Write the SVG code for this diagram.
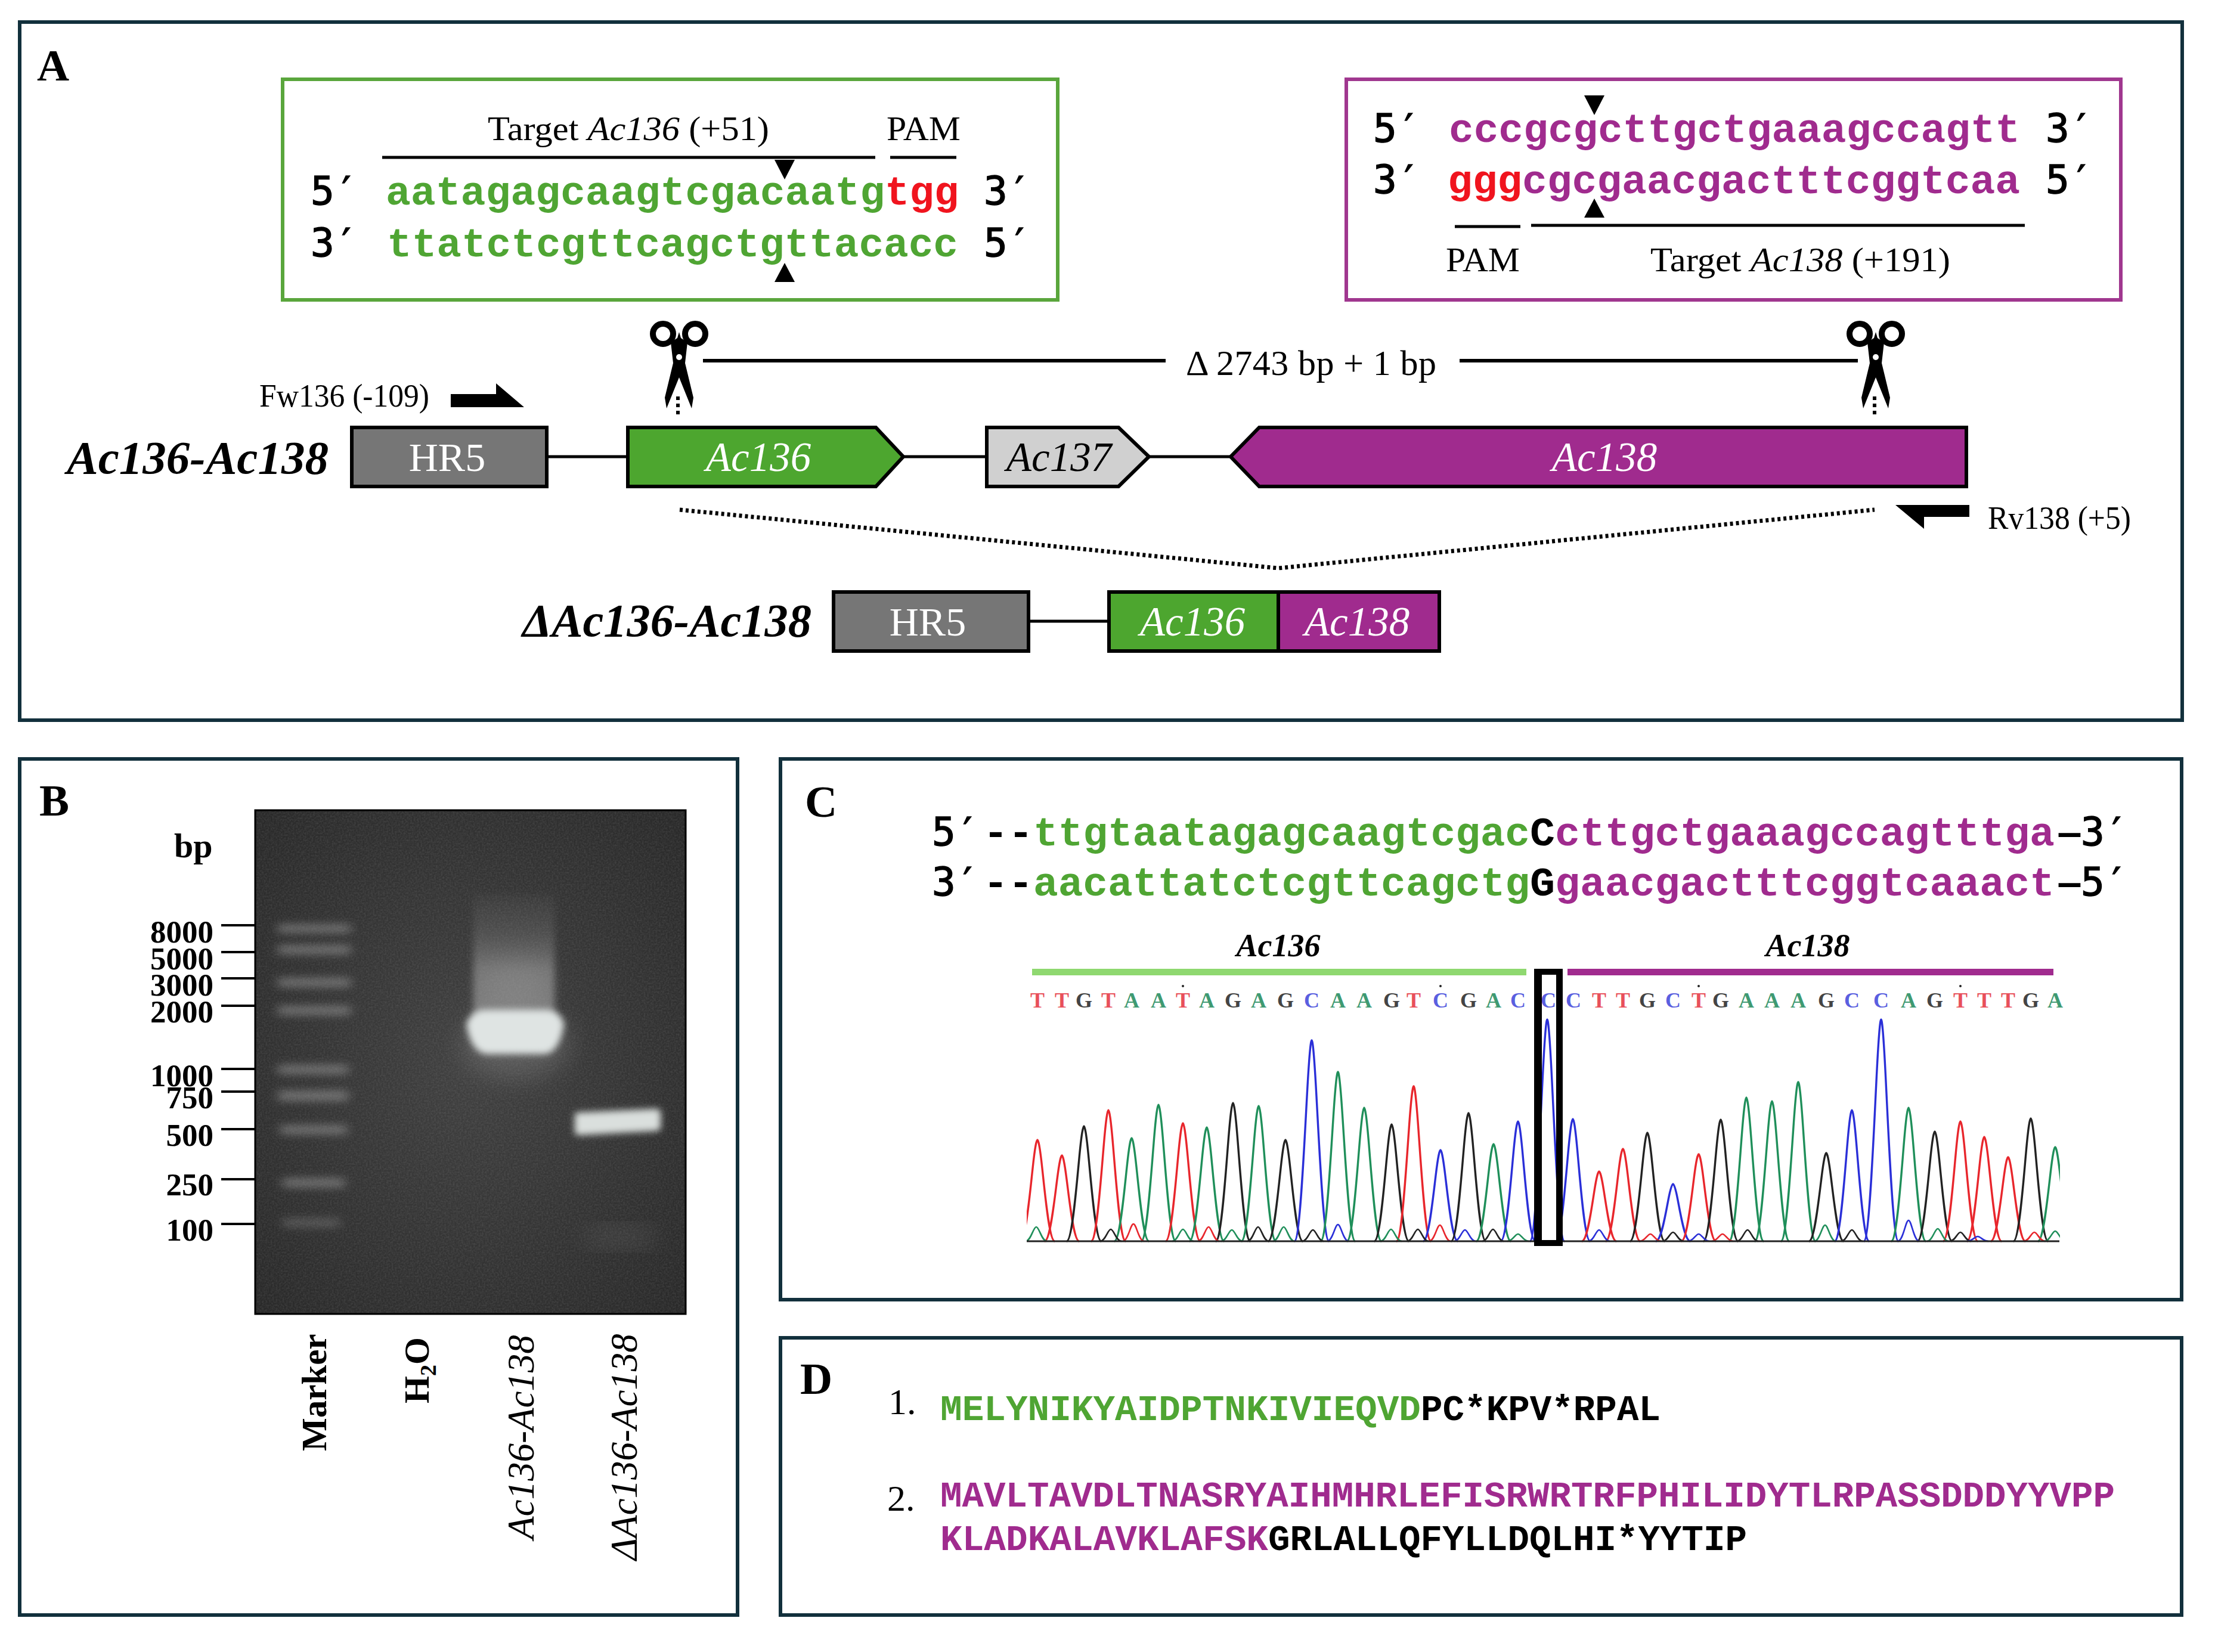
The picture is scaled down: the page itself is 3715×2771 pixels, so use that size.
<svg xmlns="http://www.w3.org/2000/svg" xmlns:xlink="http://www.w3.org/1999/xlink" width="3715" height="2771" viewBox="0 0 3715 2771">
<style>
text{font-family:"Liberation Serif","Times New Roman",serif;fill:#000}
.panel{fill:#fff;stroke:#12303c;stroke-width:6}
.m{font-family:"Liberation Mono","Courier New",monospace;font-weight:700}
.pr{font-family:"DejaVu Sans Mono","Liberation Mono",monospace;font-weight:400;font-size:66px;stroke:#000;stroke-width:1.5}
.s{font-size:69px}
.aa{font-size:61px}
.lab{font-weight:700;font-size:75px}
.t{font-size:57px}
.i{font-style:italic}
.gene{font-size:69px;font-style:italic;fill:#fff;text-anchor:middle}
.box{stroke:#000;stroke-width:6}
.line{stroke:#000;stroke-width:5;fill:none}
.tick{stroke:#000;stroke-width:4}
.size{font-weight:700;font-size:53px;text-anchor:end}
.g{fill:#4fa533}.p{fill:#a02b8e}.r{fill:#f0141e}
.cR{stroke:#e8262c}.cB{stroke:#2a2fd8}.cG{stroke:#1f8f5a}.cK{stroke:#222}
.b{font-size:36px;text-anchor:middle}
.fR{fill:#e8505a}.fB{fill:#5a5fe0}.fG{fill:#3f9a72}.fK{fill:#444}
.band{fill:#b0b0b0;filter:url(#b7)}
</style>
<defs>
<path id="pk" fill="none" stroke-width="3.4" vector-effect="non-scaling-stroke" d="M-29 0C-20 0-13-.45-8-.72C-4-.94-1.500-1 0-1C1.500-1 4-.94 8-.72C13-.45 20 0 29 0"/>
<path id="sm" fill="none" stroke-width="2.6" vector-effect="non-scaling-stroke" d="M-18 0C-9 0-5-1 0-1C5-1 9 0 18 0"/>
<g id="sc">
<circle cx="-27" cy="-39" r="17" fill="none" stroke="#000" stroke-width="10"/>
<circle cx="27" cy="-39" r="17" fill="none" stroke="#000" stroke-width="10"/>
<path d="M-14-25L-3-32L0-42L3-32L14-25L10 10L24 68L21 86L0 34L-21 86L-24 68L-10 10Z" fill="#000"/>
<circle cx="0" cy="0" r="5" fill="#fff"/>
<path d="M-2 66V99" stroke="#000" stroke-width="6" stroke-dasharray="6 6" fill="none"/>
</g>
<filter id="b7" x="-20%" y="-200%" width="140%" height="500%"><feGaussianBlur stdDeviation="9 7"/></filter>
<filter id="b6" x="-20%" y="-60%" width="140%" height="220%"><feGaussianBlur stdDeviation="6"/></filter>
<filter id="b20" x="-40%" y="-40%" width="180%" height="180%"><feGaussianBlur stdDeviation="20"/></filter>
<filter id="grain" x="0" y="0" width="100%" height="100%"><feTurbulence type="fractalNoise" baseFrequency=".35" numOctaves="2" seed="4"/><feColorMatrix values="0 0 0 0 .75 0 0 0 0 .75 0 0 0 0 .75 .6 0 0 0 -.2"/></filter>
<radialGradient id="gelbg" cx="50%" cy="50%" r="72%"><stop offset="0" stop-color="#414141"/><stop offset="1" stop-color="#282828"/></radialGradient>
<linearGradient id="smear" x1="0" y1="0" x2="0" y2="1"><stop offset="0" stop-color="#999" stop-opacity=".05"/><stop offset=".3" stop-color="#999" stop-opacity=".22"/><stop offset=".6" stop-color="#aaa" stop-opacity=".5"/><stop offset="1" stop-color="#aaa" stop-opacity=".6"/></linearGradient>
<clipPath id="trc"><rect x="1722" y="1700" width="1733" height="400"/></clipPath>
</defs>
<rect width="3715" height="2771" fill="#fff"/>

<g id="panel-A">
<rect class="panel" x="33" y="37" width="3627" height="1171"/>
<text class="lab" x="62" y="135">A</text>

<g id="target-ac136">
<rect x="474" y="133" width="1300" height="370" fill="#fff" stroke="#5aa63c" stroke-width="6"/>
<text class="t" x="818" y="235" textLength="472" lengthAdjust="spacingAndGlyphs">Target <tspan class="i">Ac136</tspan> (+51)</text>
<text class="t" x="1487" y="235" textLength="124" lengthAdjust="spacingAndGlyphs">PAM</text>
<path class="line" d="M641 264H1468M1493 264H1604"/>
<text class="pr" x="521" y="343">5′</text>
<text class="m s g" x="647" y="343" textLength="837" lengthAdjust="spacingAndGlyphs">aatagagcaagtcgacaatg</text>
<text class="m s r" x="1484" y="343" textLength="124" lengthAdjust="spacingAndGlyphs">tgg</text>
<text class="pr" x="1650" y="343">3′</text>
<text class="pr" x="521" y="430">3′</text>
<text class="m s g" x="649" y="430" textLength="958" lengthAdjust="spacingAndGlyphs">ttatctcgttcagctgttacacc</text>
<text class="pr" x="1650" y="430">5′</text>
<path d="M1299 268H1333L1316 301Z"/>
<path d="M1316 441L1333 473H1299Z"/>
</g>

<g id="target-ac138">
<rect x="2258" y="133" width="1299" height="370" fill="#fff" stroke="#a0378f" stroke-width="6"/>
<text class="pr" x="2303" y="238">5′</text>
<text class="m s p" x="2430" y="238" textLength="958" lengthAdjust="spacingAndGlyphs">cccgcgcttgctgaaagccagtt</text>
<text class="pr" x="3431" y="238">3′</text>
<text class="pr" x="2303" y="324">3′</text>
<text class="m s r" x="2428" y="324" textLength="125" lengthAdjust="spacingAndGlyphs">ggg</text>
<text class="m s p" x="2553" y="324" textLength="835" lengthAdjust="spacingAndGlyphs">cgcgaacgactttcggtcaa</text>
<text class="pr" x="3431" y="324">5′</text>
<path d="M2657 160H2691L2674 193Z"/>
<path d="M2674 333L2691 365H2657Z"/>
<path class="line" d="M2440 380H2550M2568 378H3396"/>
<text class="t" x="2425" y="455" textLength="124" lengthAdjust="spacingAndGlyphs">PAM</text>
<text class="t" x="2768" y="455" textLength="503" lengthAdjust="spacingAndGlyphs">Target <tspan class="i">Ac138</tspan> (+191)</text>
</g>

<g id="connectors">
<path d="M1179 605H1955M2448 605H3116" stroke="#000" stroke-width="6" fill="none"/>
<path d="M917 766H1053M1515 766H1655M1927 766H2064M1725 1042H1860" stroke="#000" stroke-width="5" fill="none"/>
<path d="M1140 855L2144 953L3144 855" stroke="#000" stroke-width="7" stroke-dasharray="5 5" fill="none"/>
</g>

<g id="scissors-left"><use xlink:href="#sc" href="#sc" x="1139" y="599"/></g>
<g id="scissors-right"><use xlink:href="#sc" href="#sc" x="3146" y="599"/></g>
<text class="t" x="1989" y="629" textLength="420" lengthAdjust="spacing" style="font-size:60px">Δ 2743 bp + 1 bp</text>

<g id="primer-fw"><text class="t" x="435" y="682" textLength="285" lengthAdjust="spacingAndGlyphs" style="font-size:54px">Fw136 (-109)</text>
<path d="M756 661H832V643L879 683H756Z"/></g>
<g id="primer-rv"><text class="t" x="3334" y="887" textLength="240" lengthAdjust="spacingAndGlyphs" style="font-size:54px">Rv138 (+5)</text>
<path d="M3179 847H3303V867H3227V887Z"/></g>

<text class="i" x="112" y="794" textLength="439" lengthAdjust="spacingAndGlyphs" style="font-size:79px;font-weight:700">Ac136-Ac138</text>
<g id="wt-hr5"><rect class="box" x="590" y="717" width="327" height="99" fill="#767676"/>
<text x="750" y="790" text-anchor="middle" style="font-size:68px;fill:#fff">HR5</text></g>
<g id="wt-ac136"><path class="box" d="M1053 717H1469L1515 766L1469 816H1053Z" fill="#4da62f"/>
<text class="gene" x="1272" y="790">Ac136</text></g>
<g id="wt-ac137"><path class="box" d="M1655 717H1876L1927 766L1876 816H1655Z" fill="#d0d0d0"/>
<text class="gene" x="1776" y="790" style="fill:#000">Ac137</text></g>
<g id="wt-ac138"><path class="box" d="M2064 766L2112 717H3298V816H2112Z" fill="#a02b8e"/>
<text class="gene" x="2691" y="790">Ac138</text></g>

<text class="i" x="876" y="1067" textLength="485" lengthAdjust="spacingAndGlyphs" style="font-size:79px;font-weight:700">ΔAc136-Ac138</text>
<g id="del-hr5"><rect class="box" x="1398" y="993" width="327" height="99" fill="#767676"/>
<text x="1556" y="1066" text-anchor="middle" style="font-size:68px;fill:#fff">HR5</text></g>
<g id="del-ac136"><rect class="box" x="1860" y="993" width="284" height="99" fill="#4da62f"/>
<text class="gene" x="2000" y="1066">Ac136</text></g>
<g id="del-ac138"><rect class="box" x="2144" y="993" width="270" height="99" fill="#a02b8e"/>
<text class="gene" x="2276" y="1066">Ac138</text></g>
</g>

<g id="panel-B">
<rect class="panel" x="33" y="1273" width="1204" height="1436"/>
<text class="lab" x="66" y="1368">B</text>
<g id="gel">
<rect x="428" y="1359" width="722" height="845" fill="url(#gelbg)" stroke="#000" stroke-width="3"/>
<rect x="430" y="1361" width="718" height="841" filter="url(#grain)" opacity=".35"/>
<g opacity=".45">
<rect class="band" x="466" y="1550" width="122" height="15"/>
<rect class="band" x="466" y="1585" width="122" height="16"/>
<rect class="band" x="466" y="1640" width="122" height="16"/>
<rect class="band" x="466" y="1687" width="122" height="16"/>
<rect class="band" x="466" y="1786" width="118" height="16"/>
<rect class="band" x="466" y="1829" width="118" height="18"/>
<rect class="band" x="470" y="1887" width="112" height="16"/>
<rect class="band" x="474" y="1976" width="104" height="16"/>
<rect class="band" x="474" y="2043" width="96" height="16" opacity=".6"/>
</g>
<rect x="794" y="1500" width="136" height="210" fill="url(#smear)" filter="url(#b6)"/>
<ellipse cx="866" cy="1650" rx="60" ry="34" fill="#aaa" opacity=".2" filter="url(#b20)"/>
<ellipse cx="866" cy="1750" rx="90" ry="60" fill="#999" opacity=".3" filter="url(#b20)"/>
<path d="M782 1718Q790 1696 812 1694H918Q940 1696 946 1718Q938 1764 915 1768H815Q790 1764 782 1718Z" fill="#dfe4e3" filter="url(#b6)"/>
<path d="M964 1870Q964 1866 972 1866L1100 1860Q1108 1860 1108 1866L1108 1892Q1108 1896 1100 1897L972 1904Q964 1904 964 1898Z" fill="#dadfdd" filter="url(#b6)"/>
<rect x="985" y="2060" width="110" height="30" fill="#777" opacity=".3" filter="url(#b20)"/>
</g>
<text x="292" y="1438" style="font-weight:700;font-size:58px">bp</text>
<path class="tick" d="M371 1552H428M371 1597H428M371 1641H428M371 1687H428M371 1793H428M371 1831H428M371 1894H428M371 1978H428M371 2053H428"/>
<text class="size" x="358" y="1581">8000</text>
<text class="size" x="358" y="1626">5000</text>
<text class="size" x="358" y="1670">3000</text>
<text class="size" x="358" y="1715">2000</text>
<text class="size" x="358" y="1822">1000</text>
<text class="size" x="358" y="1859">750</text>
<text class="size" x="358" y="1922">500</text>
<text class="size" x="358" y="2005">250</text>
<text class="size" x="358" y="2081">100</text>
<text transform="translate(547 2434) rotate(-90)" style="font-weight:700;font-size:59px">Marker</text>
<text transform="translate(719 2354) rotate(-90)" style="font-weight:700;font-size:59px">H<tspan dy="12" style="font-size:38px">2</tspan><tspan dy="-12">O</tspan></text>
<text class="i" transform="translate(895 2582) rotate(-90)" style="font-size:63px">Ac136-Ac138</text>
<text class="i" transform="translate(1068 2617) rotate(-90)" style="font-size:63px">ΔAc136-Ac138</text>
</g>

<g id="panel-C">
<rect class="panel" x="1309" y="1273" width="2350" height="907"/>
<text class="lab" x="1350" y="1370">C</text>
<g id="seq-top">
<text class="pr" x="1563" y="1418">5′</text>
<text class="m s" x="1649" y="1418" textLength="84" lengthAdjust="spacingAndGlyphs">--</text>
<text class="m s g" x="1733" y="1418" textLength="833" lengthAdjust="spacingAndGlyphs">ttgtaatagagcaagtcgac</text>
<text class="m s" x="2566" y="1418" textLength="42" lengthAdjust="spacingAndGlyphs">C</text>
<text class="m s p" x="2608" y="1418" textLength="838" lengthAdjust="spacingAndGlyphs">cttgctgaaagccagtttga</text>
<text class="m s" x="3446" y="1418" textLength="50" lengthAdjust="spacingAndGlyphs">–</text>
<text class="pr" x="3490" y="1418">3′</text>
</g>
<g id="seq-bottom">
<text class="pr" x="1563" y="1502">3′</text>
<text class="m s" x="1649" y="1502" textLength="84" lengthAdjust="spacingAndGlyphs">--</text>
<text class="m s g" x="1733" y="1502" textLength="833" lengthAdjust="spacingAndGlyphs">aacattatctcgttcagctg</text>
<text class="m s" x="2566" y="1502" textLength="42" lengthAdjust="spacingAndGlyphs">G</text>
<text class="m s p" x="2608" y="1502" textLength="838" lengthAdjust="spacingAndGlyphs">gaacgactttcggtcaaact</text>
<text class="m s" x="3446" y="1502" textLength="50" lengthAdjust="spacingAndGlyphs">–</text>
<text class="pr" x="3490" y="1502">5′</text>
</g>
<text class="i" x="2144" y="1604" text-anchor="middle" style="font-weight:700;font-size:54px">Ac136</text>
<text class="i" x="3032" y="1604" text-anchor="middle" style="font-weight:700;font-size:54px">Ac138</text>
<rect x="1731" y="1625" width="829" height="11" fill="#8fd870"/>
<rect x="2629" y="1625" width="815" height="11" fill="#a02b8e"/>
<g id="basecalls" class="m">
<text class="b fR" x="1740" y="1690">T</text><text class="b fR" x="1781" y="1690">T</text><text class="b fK" x="1818" y="1690">G</text><text class="b fR" x="1859" y="1690">T</text><text class="b fG" x="1898" y="1690">A</text><text class="b fG" x="1943" y="1690">A</text><text class="b fR" x="1984" y="1690">T</text><text class="b fG" x="2024" y="1690">A</text><text class="b fK" x="2068" y="1690">G</text><text class="b fG" x="2111" y="1690">A</text><text class="b fK" x="2156" y="1690">G</text><text class="b fB" x="2200" y="1690">C</text><text class="b fG" x="2244" y="1690">A</text><text class="b fG" x="2288" y="1690">A</text><text class="b fK" x="2334" y="1690">G</text><text class="b fR" x="2371" y="1690">T</text><text class="b fB" x="2416" y="1690">C</text><text class="b fK" x="2463" y="1690">G</text><text class="b fG" x="2505" y="1690">A</text><text class="b fB" x="2546" y="1690">C</text><text class="b fB" x="2597" y="1690">C</text><text class="b fB" x="2639" y="1690">C</text><text class="b fR" x="2682" y="1690">T</text><text class="b fR" x="2722" y="1690">T</text><text class="b fK" x="2763" y="1690">G</text><text class="b fB" x="2806" y="1690">C</text><text class="b fR" x="2849" y="1690">T</text><text class="b fK" x="2886" y="1690">G</text><text class="b fG" x="2929" y="1690">A</text><text class="b fG" x="2972" y="1690">A</text><text class="b fG" x="3016" y="1690">A</text><text class="b fK" x="3063" y="1690">G</text><text class="b fB" x="3106" y="1690">C</text><text class="b fB" x="3155" y="1690">C</text><text class="b fG" x="3201" y="1690">A</text><text class="b fK" x="3245" y="1690">G</text><text class="b fR" x="3288" y="1690">T</text><text class="b fR" x="3328" y="1690">T</text><text class="b fR" x="3368" y="1690">T</text><text class="b fK" x="3406" y="1690">G</text><text class="b fG" x="3447" y="1690">A</text>
</g>
<path d="M1984 1654h.01M2416 1654h.01M2849 1654h.01M3288 1654h.01" stroke="#222" stroke-width="4" stroke-linecap="round"/>
<g id="chromatogram" clip-path="url(#trc)">
<use href="#pk" class="cR" transform="translate(1740 2082) scale(1 170)"/>
<use href="#pk" class="cR" transform="translate(1781 2082) scale(1 144)"/>
<use href="#pk" class="cK" transform="translate(1818 2082) scale(1 193)"/>
<use href="#pk" class="cR" transform="translate(1859 2082) scale(1 220)"/>
<use href="#pk" class="cG" transform="translate(1898 2082) scale(1 173)"/>
<use href="#pk" class="cG" transform="translate(1943 2082) scale(1 229)"/>
<use href="#pk" class="cR" transform="translate(1984 2082) scale(1 198)"/>
<use href="#pk" class="cG" transform="translate(2024 2082) scale(1 191)"/>
<use href="#pk" class="cK" transform="translate(2068 2082) scale(1 232)"/>
<use href="#pk" class="cG" transform="translate(2111 2082) scale(1 227)"/>
<use href="#pk" class="cK" transform="translate(2156 2082) scale(1 170)"/>
<use href="#pk" class="cB" transform="translate(2200 2082) scale(1 337)"/>
<use href="#pk" class="cG" transform="translate(2244 2082) scale(1 284)"/>
<use href="#pk" class="cG" transform="translate(2288 2082) scale(1 224)"/>
<use href="#pk" class="cK" transform="translate(2334 2082) scale(1 196)"/>
<use href="#pk" class="cR" transform="translate(2371 2082) scale(1 260)"/>
<use href="#pk" class="cB" transform="translate(2416 2082) scale(1 153)"/>
<use href="#pk" class="cK" transform="translate(2463 2082) scale(1 215)"/>
<use href="#pk" class="cG" transform="translate(2505 2082) scale(1 163)"/>
<use href="#pk" class="cB" transform="translate(2546 2082) scale(1 201)"/>
<use href="#pk" class="cB" transform="translate(2595 2082) scale(1 372)"/>
<use href="#pk" class="cB" transform="translate(2638 2082) scale(1 205)"/>
<use href="#pk" class="cR" transform="translate(2682 2082) scale(1 117)"/>
<use href="#pk" class="cR" transform="translate(2722 2082) scale(1 155)"/>
<use href="#pk" class="cK" transform="translate(2763 2082) scale(1 182)"/>
<use href="#pk" class="cB" transform="translate(2806 2082) scale(1 96)"/>
<use href="#pk" class="cR" transform="translate(2849 2082) scale(1 146)"/>
<use href="#pk" class="cK" transform="translate(2886 2082) scale(1 204)"/>
<use href="#pk" class="cG" transform="translate(2929 2082) scale(1 241)"/>
<use href="#pk" class="cG" transform="translate(2972 2082) scale(1 235)"/>
<use href="#pk" class="cG" transform="translate(3016 2082) scale(1 267)"/>
<use href="#pk" class="cK" transform="translate(3063 2082) scale(1 148)"/>
<use href="#pk" class="cB" transform="translate(3106 2082) scale(1 220)"/>
<use href="#pk" class="cB" transform="translate(3155 2082) scale(1 372)"/>
<use href="#pk" class="cG" transform="translate(3201 2082) scale(1 224)"/>
<use href="#pk" class="cK" transform="translate(3245 2082) scale(1 184)"/>
<use href="#pk" class="cR" transform="translate(3288 2082) scale(1 201)"/>
<use href="#pk" class="cR" transform="translate(3328 2082) scale(1 175)"/>
<use href="#pk" class="cR" transform="translate(3368 2082) scale(1 141)"/>
<use href="#pk" class="cK" transform="translate(3406 2082) scale(1 206)"/>
<use href="#pk" class="cG" transform="translate(3447 2082) scale(1 158)"/>
<use href="#sm" class="cG" transform="translate(1738 2082) scale(1 24)"/>
<use href="#sm" class="cK" transform="translate(1863 2082) scale(1 20)"/>
<use href="#sm" class="cR" transform="translate(1901 2082) scale(1 29)"/>
<use href="#sm" class="cG" transform="translate(1984 2082) scale(1 20)"/>
<use href="#sm" class="cR" transform="translate(2027 2082) scale(1 24)"/>
<use href="#sm" class="cG" transform="translate(2066 2082) scale(1 19)"/>
<use href="#sm" class="cK" transform="translate(2110 2082) scale(1 24)"/>
<use href="#sm" class="cG" transform="translate(2153 2082) scale(1 24)"/>
<use href="#sm" class="cK" transform="translate(2202 2082) scale(1 19)"/>
<use href="#sm" class="cB" transform="translate(2244 2082) scale(1 28)"/>
<use href="#sm" class="cG" transform="translate(2333 2082) scale(1 20)"/>
<use href="#sm" class="cK" transform="translate(2378 2082) scale(1 20)"/>
<use href="#sm" class="cR" transform="translate(2415 2082) scale(1 27)"/>
<use href="#sm" class="cB" transform="translate(2457 2082) scale(1 19)"/>
<use href="#sm" class="cK" transform="translate(2504 2082) scale(1 20)"/>
<use href="#sm" class="cG" transform="translate(2546 2082) scale(1 12)"/>
<use href="#sm" class="cB" transform="translate(2682 2082) scale(1 19)"/>
<use href="#sm" class="cR" transform="translate(2768 2082) scale(1 12)"/>
<use href="#sm" class="cK" transform="translate(2806 2082) scale(1 15)"/>
<use href="#sm" class="cB" transform="translate(2849 2082) scale(1 12)"/>
<use href="#sm" class="cR" transform="translate(2889 2082) scale(1 12)"/>
<use href="#sm" class="cK" transform="translate(2931 2082) scale(1 19)"/>
<use href="#sm" class="cG" transform="translate(3061 2082) scale(1 27)"/>
<use href="#sm" class="cK" transform="translate(3106 2082) scale(1 19)"/>
<use href="#sm" class="cB" transform="translate(3201 2082) scale(1 35)"/>
<use href="#sm" class="cG" transform="translate(3250 2082) scale(1 21)"/>
<use href="#sm" class="cK" transform="translate(3288 2082) scale(1 15)"/>
<use href="#sm" class="cB" transform="translate(3317 2082) scale(1 8)"/>
<use href="#sm" class="cR" transform="translate(3412 2082) scale(1 15)"/>
<use href="#sm" class="cG" transform="translate(3447 2082) scale(1 17)"/>
<path d="M1722 2082H3454" stroke="#222" stroke-width="3" fill="none"/>
</g>
<path id="junction-box" d="M2573 1625H2621V2090H2573ZM2586 1635V2080H2610V1635Z" fill="#000" fill-rule="evenodd"/>
</g>

<g id="panel-D">
<rect class="panel" x="1309" y="2244" width="2350" height="465"/>
<text class="lab" x="1342" y="2338">D</text>
<text x="1490" y="2372" style="font-size:62px">1.</text>
<text class="m aa g" x="1577" y="2382" textLength="806" lengthAdjust="spacingAndGlyphs">MELYNIKYAIDPTNKIVIEQVD</text>
<text class="m aa" x="2383" y="2382" textLength="402" lengthAdjust="spacingAndGlyphs">PC*KPV*RPAL</text>
<text x="1488" y="2534" style="font-size:62px">2.</text>
<text class="m aa p" x="1577" y="2527" textLength="1970" lengthAdjust="spacingAndGlyphs">MAVLTAVDLTNASRYAIHMHRLEFISRWRTRFPHILIDYTLRPASSDDDYYVPP</text>
<text class="m aa p" x="1577" y="2600" textLength="550" lengthAdjust="spacingAndGlyphs">KLADKALAVKLAFSK</text>
<text class="m aa" x="2127" y="2600" textLength="803" lengthAdjust="spacingAndGlyphs">GRLALLQFYLLDQLHI*YYTIP</text>
</g>
</svg>
